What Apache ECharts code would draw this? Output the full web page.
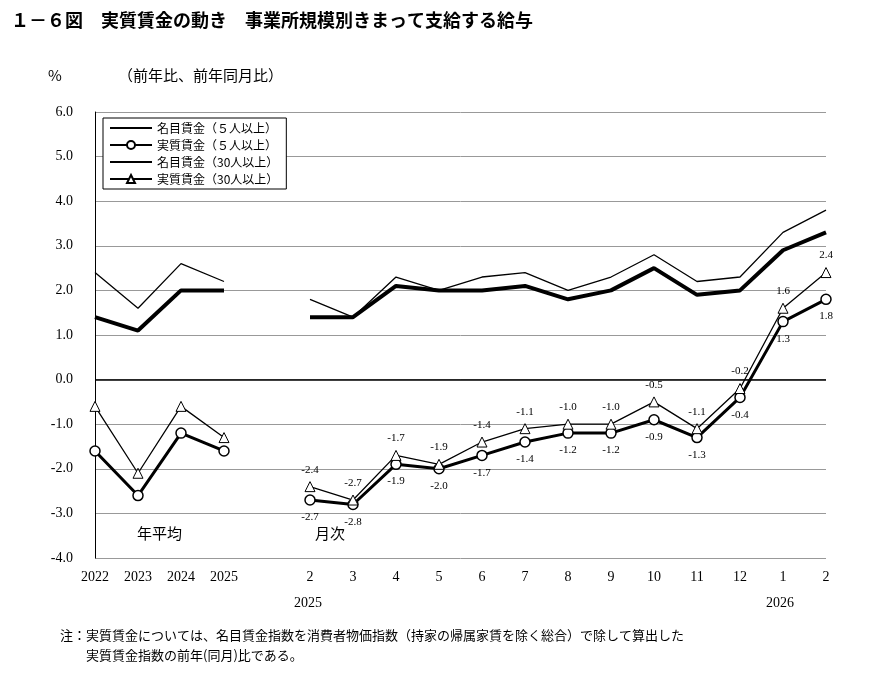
<!DOCTYPE html>
<html><head><meta charset="utf-8">
<script src="https://cdn.jsdelivr.net/npm/echarts@6/dist/echarts.min.js"></script>
<style>html,body{margin:0;padding:0;background:#fff}#c{width:870px;height:675px}</style>
</head><body><div id="c"></div>
<script>
const categories = ['2022','2023','2024','2025','','2','3','4','5','6','7','8','9','10','11','12','1','2'];
const nominal5  = [1.4,1.1,2.0,2.0,null,1.4,1.4,2.1,2.0,2.0,2.1,1.8,2.0,2.5,1.9,2.0,2.9,3.3];
const real5     = [-1.6,-2.6,-1.2,-1.6,null,-2.7,-2.8,-1.9,-2.0,-1.7,-1.4,-1.2,-1.2,-0.9,-1.3,-0.4,1.3,1.8];
const nominal30 = [2.4,1.6,2.6,2.2,null,1.8,1.4,2.3,2.0,2.3,2.4,2.0,2.3,2.8,2.2,2.3,3.3,3.8];
const real30    = [-0.6,-2.1,-0.6,-1.3,null,-2.4,-2.7,-1.7,-1.9,-1.4,-1.1,-1.0,-1.0,-0.5,-1.1,-0.2,1.6,2.4];
const seriesNames = ['名目賃金（５人以上）','実質賃金（５人以上）','名目賃金（30人以上）','実質賃金（30人以上）'];
const serif = 'Liberation Serif, Noto Sans CJK JP';
const jp = 'Noto Sans CJK JP';
function lab(pos){return {show:true,position:pos,fontFamily:serif,fontSize:11,color:'#000',distance:6,
  formatter:p=>p.dataIndex<5||p.value==null?'':p.value.toFixed(1)};}
const chart = echarts.init(document.getElementById('c'));
chart.setOption({
  animation:false,
  grid:{left:95,right:44,top:112,bottom:117},
  title:{text:'１－６図　実質賃金の動き　事業所規模別きまって支給する給与',left:6,top:6,
    textStyle:{fontFamily:jp,fontSize:18,fontWeight:'bold',color:'#000'}},
  legend:{orient:'vertical',left:103,top:118,itemWidth:42,itemHeight:10,itemGap:5,
    backgroundColor:'#fff',borderColor:'#000',borderWidth:1,padding:[4,8,4,6],z:10,
    textStyle:{fontFamily:jp,fontSize:12,color:'#000'},
    data:[{name:seriesNames[0],itemStyle:{opacity:0}},seriesNames[1],{name:seriesNames[2],itemStyle:{opacity:0}},seriesNames[3]]},
  xAxis:{type:'category',data:categories,boundaryGap:false,
    axisLine:{show:false},axisTick:{show:false},
    axisLabel:{fontFamily:serif,fontSize:14,color:'#000',margin:12,interval:0}},
  yAxis:{type:'value',min:-4,max:6,interval:1,
    axisLine:{show:true,lineStyle:{color:'#000'}},axisTick:{show:false},
    axisLabel:{fontFamily:serif,fontSize:14,color:'#000',margin:22,formatter:v=>v.toFixed(1)},
    splitLine:{lineStyle:{color:'#999',width:1}}},
  graphic:[
    {type:'text',left:48,top:68,style:{text:'%',font:'15px '+jp,fill:'#000'}},
    {type:'text',left:118,top:68,style:{text:'（前年比、前年同月比）',font:'15px '+jp,fill:'#000'}},
    {type:'text',left:137,top:526,style:{text:'年平均',font:'15px '+jp,fill:'#000'}},
    {type:'text',left:315,top:526,style:{text:'月次',font:'15px '+jp,fill:'#000'}},
    {type:'text',left:294,top:596,style:{text:'2025',font:'14px '+serif,fill:'#000'}},
    {type:'text',left:766,top:596,style:{text:'2026',font:'14px '+serif,fill:'#000'}},
    {type:'text',left:60,top:625,style:{text:'注：実質賃金については、名目賃金指数を消費者物価指数（持家の帰属家賃を除く総合）で除して算出した\n　　実質賃金指数の前年(同月)比である。',font:'13px '+jp,fill:'#000',lineHeight:20}}
  ],
  series:[
    {name:seriesNames[0],type:'line',data:nominal5,symbol:'circle',symbolSize:1,lineStyle:{color:'#000',width:4},itemStyle:{color:'#000',opacity:0},label:lab('bottom'),markLine:{silent:true,symbol:'none',label:{show:false},lineStyle:{color:'#000',width:1.5,type:'solid'},data:[{yAxis:0}]}},
    {name:seriesNames[1],type:'line',data:real5,symbol:'circle',symbolSize:10,lineStyle:{color:'#000',width:3},itemStyle:{color:'#fff',borderColor:'#000',borderWidth:1.5},label:lab('bottom')},
    {name:seriesNames[2],type:'line',data:nominal30,symbol:'circle',symbolSize:1,lineStyle:{color:'#000',width:1.3},itemStyle:{color:'#000',opacity:0},label:lab('top')},
    {name:seriesNames[3],type:'line',data:real30,symbol:'triangle',symbolSize:10,lineStyle:{color:'#000',width:1.3},itemStyle:{color:'#fff',borderColor:'#000',borderWidth:1},label:lab('top')}
  ]
});
</script></body></html>
